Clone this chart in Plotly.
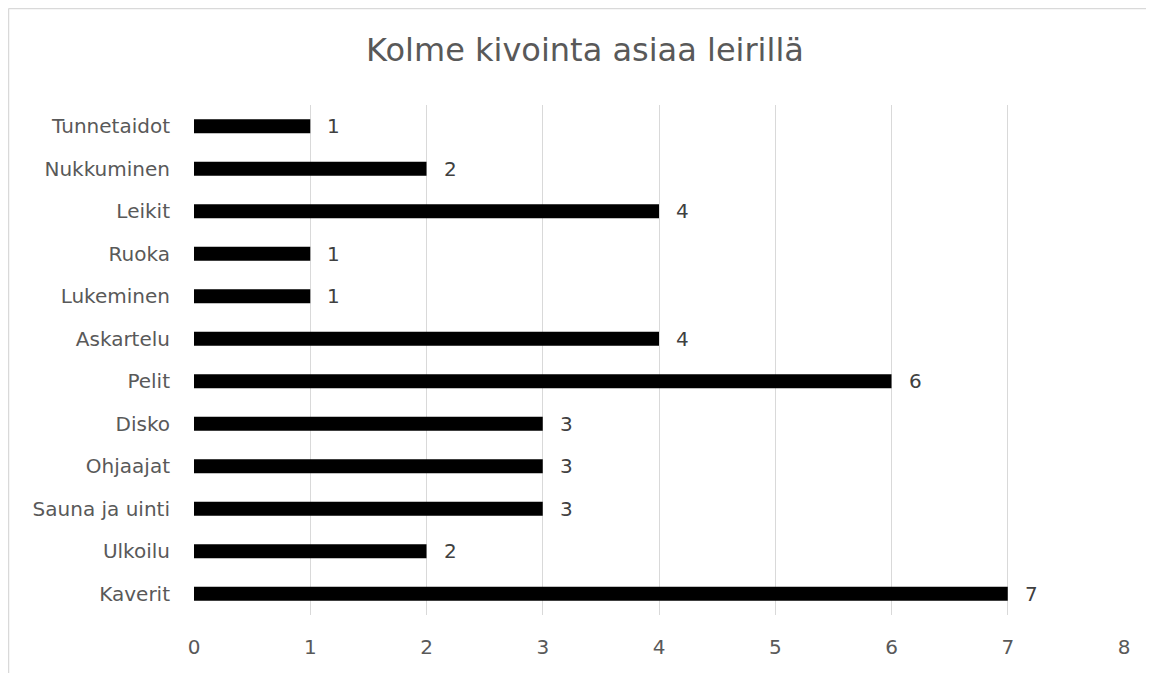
import plotly.graph_objects as go

categories = ["Kaverit", "Ulkoilu", "Sauna ja uinti", "Ohjaajat", "Disko", "Pelit",
              "Askartelu", "Lukeminen", "Ruoka", "Leikit", "Nukkuminen", "Tunnetaidot"]
values = [7, 2, 3, 3, 3, 6, 4, 1, 1, 4, 2, 1]
x_ticks = [0, 1, 2, 3, 4, 5, 6, 7, 8]
title_text = "Kolme kivointa asiaa leirillä"

FONT = "DejaVu Sans, Verdana, sans-serif"
W, H = 1154, 673
L, R, T, B = 186, 38, 97, 65.5
PW, PH = W - L - R, H - T - B

fig = go.Figure(go.Bar(
    x=values, y=categories, orientation="h",
    marker=dict(color="#000000", line=dict(width=0)),
    width=0.33, hoverinfo="skip",
))

for c, v in zip(categories, values):
    fig.add_annotation(x=v, y=c, text=str(v), showarrow=False, xanchor="left",
                       xshift=15, font=dict(family=FONT, size=20, color="#404040"))

bx0 = (0.5 - L) / PW
bx1 = (W + 50 - L) / PW
by0 = -(B + 50) / PH
by1 = (PH + T - 0.5) / PH
border = dict(color="#d9d9d9", width=1.5)

fig.update_layout(
    width=W, height=H,
    margin=dict(l=L, r=R, t=T, b=B),
    paper_bgcolor="white", plot_bgcolor="white",
    showlegend=False,
    title=dict(text=title_text, x=0.5, xanchor="center", xref="container",
               y=1 - 42 / H, yanchor="middle",
               font=dict(family=FONT, size=32, color="#595959")),
    xaxis=dict(range=[0, 8], tickvals=x_ticks, showgrid=True, gridcolor="#d9d9d9",
               gridwidth=1, zeroline=False, showline=False, ticks="", automargin=False,
               tickfont=dict(family=FONT, size=20, color="#595959"), ticklabelstandoff=18),
    yaxis=dict(categoryorder="array", categoryarray=categories, showgrid=False,
               zeroline=False, showline=False, ticks="", ticklabelstandoff=23, automargin=False,
               tickfont=dict(family=FONT, size=20, color="#595959")),
    shapes=[
        dict(type="line", xref="paper", yref="paper", x0=bx0, x1=bx0, y0=by0, y1=by1,
             line=border, layer="below"),
        dict(type="line", xref="paper", yref="paper", x0=bx0, x1=bx1, y0=by1, y1=by1,
             line=border, layer="below"),
    ],
)

fig.write_html("out.html")
